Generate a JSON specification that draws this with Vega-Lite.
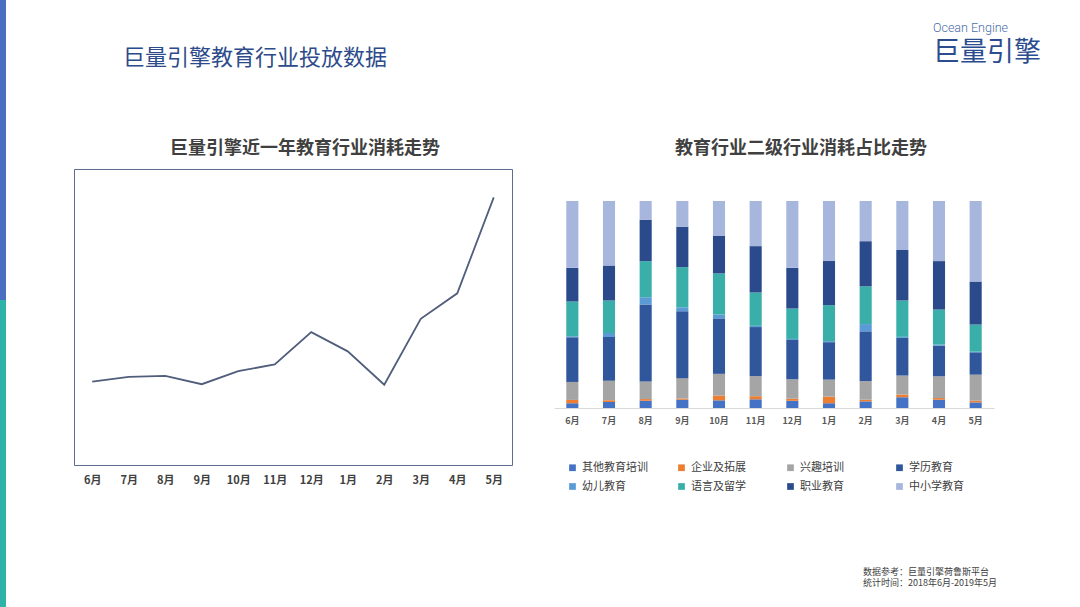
{
  "$schema": "https://vega.github.io/schema/vega-lite/v6.json",
  "background": "white",
  "padding": 0,
  "config": {
    "view": {"stroke": null},
    "font": "Noto Sans CJK SC",
    "title": {"font": "Noto Sans CJK SC"},
    "axis": {"labelFont": "Noto Sans CJK SC"},
    "legend": {"labelFont": "Noto Sans CJK SC"}
  },
  "datasets": {
    "line": [
      {"m": "6月", "v": 28.2}, {"m": "7月", "v": 29.8}, {"m": "8月", "v": 30.1},
      {"m": "9月", "v": 27.3}, {"m": "10月", "v": 31.7}, {"m": "11月", "v": 34.0},
      {"m": "12月", "v": 44.9}, {"m": "1月", "v": 38.4}, {"m": "2月", "v": 27.1},
      {"m": "3月", "v": 49.4}, {"m": "4月", "v": 58.0}, {"m": "5月", "v": 90.4}
    ],
    "bars": [
      {"m": "6月", "c": "其他教育培训", "v": 2.3}, {"m": "6月", "c": "企业及拓展", "v": 1.6}, {"m": "6月", "c": "兴趣培训", "v": 8.7}, {"m": "6月", "c": "学历教育", "v": 21.6}, {"m": "6月", "c": "幼儿教育", "v": 0.5}, {"m": "6月", "c": "语言及留学", "v": 16.8}, {"m": "6月", "c": "职业教育", "v": 16.3}, {"m": "6月", "c": "中小学教育", "v": 32.3},
      {"m": "7月", "c": "其他教育培训", "v": 2.9}, {"m": "7月", "c": "企业及拓展", "v": 0.8}, {"m": "7月", "c": "兴趣培训", "v": 9.4}, {"m": "7月", "c": "学历教育", "v": 21.1}, {"m": "7月", "c": "幼儿教育", "v": 2.0}, {"m": "7月", "c": "语言及留学", "v": 15.6}, {"m": "7月", "c": "职业教育", "v": 16.9}, {"m": "7月", "c": "中小学教育", "v": 31.1},
      {"m": "8月", "c": "其他教育培训", "v": 3.5}, {"m": "8月", "c": "企业及拓展", "v": 0.8}, {"m": "8月", "c": "兴趣培训", "v": 8.5}, {"m": "8月", "c": "学历教育", "v": 37.1}, {"m": "8月", "c": "幼儿教育", "v": 3.5}, {"m": "8月", "c": "语言及留学", "v": 17.4}, {"m": "8月", "c": "职业教育", "v": 20.0}, {"m": "8月", "c": "中小学教育", "v": 9.0},
      {"m": "9月", "c": "其他教育培训", "v": 4.0}, {"m": "9月", "c": "企业及拓展", "v": 0.6}, {"m": "9月", "c": "兴趣培训", "v": 9.8}, {"m": "9月", "c": "学历教育", "v": 32.3}, {"m": "9月", "c": "幼儿教育", "v": 1.9}, {"m": "9月", "c": "语言及留学", "v": 19.4}, {"m": "9月", "c": "职业教育", "v": 19.5}, {"m": "9月", "c": "中小学教育", "v": 12.4},
      {"m": "10月", "c": "其他教育培训", "v": 3.7}, {"m": "10月", "c": "企业及拓展", "v": 2.3}, {"m": "10月", "c": "兴趣培训", "v": 10.5}, {"m": "10月", "c": "学历教育", "v": 26.8}, {"m": "10月", "c": "幼儿教育", "v": 1.9}, {"m": "10月", "c": "语言及留学", "v": 19.8}, {"m": "10月", "c": "职业教育", "v": 18.1}, {"m": "10月", "c": "中小学教育", "v": 16.9},
      {"m": "11月", "c": "其他教育培训", "v": 4.2}, {"m": "11月", "c": "企业及拓展", "v": 1.5}, {"m": "11月", "c": "兴趣培训", "v": 9.7}, {"m": "11月", "c": "学历教育", "v": 23.7}, {"m": "11月", "c": "幼儿教育", "v": 0.6}, {"m": "11月", "c": "语言及留学", "v": 16.1}, {"m": "11月", "c": "职业教育", "v": 22.4}, {"m": "11月", "c": "中小学教育", "v": 21.8},
      {"m": "12月", "c": "其他教育培训", "v": 3.5}, {"m": "12月", "c": "企业及拓展", "v": 1.0}, {"m": "12月", "c": "兴趣培训", "v": 9.4}, {"m": "12月", "c": "学历教育", "v": 19.0}, {"m": "12月", "c": "幼儿教育", "v": 0.5}, {"m": "12月", "c": "语言及留学", "v": 14.7}, {"m": "12月", "c": "职业教育", "v": 19.7}, {"m": "12月", "c": "中小学教育", "v": 32.3},
      {"m": "1月", "c": "其他教育培训", "v": 2.3}, {"m": "1月", "c": "企业及拓展", "v": 3.2}, {"m": "1月", "c": "兴趣培训", "v": 8.2}, {"m": "1月", "c": "学历教育", "v": 18.1}, {"m": "1月", "c": "幼儿教育", "v": 0.5}, {"m": "1月", "c": "语言及留学", "v": 17.4}, {"m": "1月", "c": "职业教育", "v": 21.3}, {"m": "1月", "c": "中小学教育", "v": 29.0},
      {"m": "2月", "c": "其他教育培训", "v": 3.2}, {"m": "2月", "c": "企业及拓展", "v": 0.8}, {"m": "2月", "c": "兴趣培训", "v": 9.0}, {"m": "2月", "c": "学历教育", "v": 24.0}, {"m": "2月", "c": "幼儿教育", "v": 3.5}, {"m": "2月", "c": "语言及留学", "v": 18.2}, {"m": "2月", "c": "职业教育", "v": 21.8}, {"m": "2月", "c": "中小学教育", "v": 19.4},
      {"m": "3月", "c": "其他教育培训", "v": 5.2}, {"m": "3月", "c": "企业及拓展", "v": 1.3}, {"m": "3月", "c": "兴趣培训", "v": 9.2}, {"m": "3月", "c": "学历教育", "v": 18.2}, {"m": "3月", "c": "幼儿教育", "v": 0.5}, {"m": "3月", "c": "语言及留学", "v": 17.6}, {"m": "3月", "c": "职业教育", "v": 24.4}, {"m": "3月", "c": "中小学教育", "v": 23.7},
      {"m": "4月", "c": "其他教育培训", "v": 4.0}, {"m": "4月", "c": "企业及拓展", "v": 0.8}, {"m": "4月", "c": "兴趣培训", "v": 10.5}, {"m": "4月", "c": "学历教育", "v": 14.8}, {"m": "4月", "c": "幼儿教育", "v": 0.5}, {"m": "4月", "c": "语言及留学", "v": 16.9}, {"m": "4月", "c": "职业教育", "v": 23.4}, {"m": "4月", "c": "中小学教育", "v": 29.0},
      {"m": "5月", "c": "其他教育培训", "v": 2.7}, {"m": "5月", "c": "企业及拓展", "v": 0.8}, {"m": "5月", "c": "兴趣培训", "v": 12.6}, {"m": "5月", "c": "学历教育", "v": 10.8}, {"m": "5月", "c": "幼儿教育", "v": 0.3}, {"m": "5月", "c": "语言及留学", "v": 13.1}, {"m": "5月", "c": "职业教育", "v": 20.8}, {"m": "5月", "c": "中小学教育", "v": 38.9}
    ]
  },
  "spacing": 67,
  "resolve": {"scale": {"color": "independent"}, "legend": {"color": "independent"}},
  "hconcat": [
    {
      "data": {"values": [{"seg": "a", "k": "s", "v": 300}, {"seg": "b", "k": "s", "v": 307}]},
      "width": 6,
      "height": 607,
      "mark": {"type": "bar"},
      "encoding": {
        "x": {"field": "k", "type": "nominal", "axis": null, "scale": {"paddingInner": 0, "paddingOuter": 0}},
        "y": {"field": "v", "type": "quantitative", "axis": null, "scale": {"domain": [0, 607], "nice": false}},
        "order": {"field": "seg", "sort": "descending"},
        "color": {"field": "seg", "type": "nominal", "legend": null, "scale": {"domain": ["a", "b"], "range": ["#4a6fc0", "#2fb3a9"]}}
      }
    },
    {
      "spacing": 70,
      "resolve": {"scale": {"color": "independent"}, "legend": {"color": "independent"}},
      "vconcat": [
        {
          "spacing": 0,
          "hconcat": [
            {
              "data": {"values": []},
              "mark": "point",
              "width": 859,
              "height": 46,
              "title": {"text": "巨量引擎教育行业投放数据", "orient": "bottom", "anchor": "start", "dx": 49, "offset": 2, "fontSize": 22, "fontWeight": "normal", "color": "#2d4b8a", "baseline": "top"}
            },
            {
              "data": {"values": []},
              "mark": "point",
              "width": 110,
              "height": 21,
              "title": {"text": "Ocean Engine", "subtitle": "巨量引擎", "orient": "bottom", "anchor": "start", "offset": 1, "fontSize": 12.5, "font": "Roboto", "fontWeight": 300, "color": "#4a6eaa", "subtitleFontSize": 27, "subtitleColor": "#2b4d8f", "subtitleFont": "Noto Sans CJK SC", "subtitlePadding": 5, "baseline": "top", "dx": -3}
            }
          ]
        },
        {
          "spacing": 63,
          "resolve": {"scale": {"color": "independent"}, "legend": {"color": "independent"}},
          "vconcat": [
            {
              "spacing": 41,
              "resolve": {"scale": {"color": "independent"}, "legend": {"color": "independent"}},
              "hconcat": [
                {
                  "data": {"name": "line"},
                  "width": 438,
                  "height": 296,
                  "view": {"stroke": "#5d6d8f", "strokeWidth": 1},
                  "title": {"text": "巨量引擎近一年教育行业消耗走势", "fontSize": 18, "fontWeight": "bold", "color": "#404040", "offset": 11, "dx": 12},
                  "mark": {"type": "line", "color": "#505e7c", "strokeWidth": 1.8},
                  "encoding": {
                    "x": {"field": "m", "type": "nominal", "sort": null, "axis": {"title": null, "labelAngle": 0, "domain": false, "ticks": false, "labelPadding": 9, "labelFontSize": 11, "labelFontWeight": "bold", "labelColor": "#404040"}},
                    "y": {"field": "v", "type": "quantitative", "scale": {"domain": [0, 100], "nice": false}, "axis": null}
                  }
                },
                {
                  "data": {"name": "bars"},
                  "transform": [{"window": [{"op": "row_number", "as": "o"}], "groupby": ["m"]}],
                  "width": 440,
                  "height": 239,
                  "title": {"text": "教育行业二级行业消耗占比走势", "fontSize": 18, "fontWeight": "bold", "color": "#404040", "offset": 11, "dx": 27},
                  "mark": {"type": "bar"},
                  "encoding": {
                    "x": {"field": "m", "type": "nominal", "sort": ["6月", "7月", "8月", "9月", "10月", "11月", "12月", "1月", "2月", "3月", "4月", "5月"], "scale": {"paddingInner": 0.67, "paddingOuter": 0.335}, "axis": {"title": null, "labelAngle": 0, "domain": true, "domainColor": "#d9d9d9", "ticks": false, "labelPadding": 8, "labelFontSize": 9, "labelFontWeight": "bold", "labelColor": "#595959"}},
                    "y": {"field": "v", "type": "quantitative", "stack": "normalize", "axis": null, "scale": {"domain": [0, 1.1546], "nice": false}},
                    "order": {"field": "o", "type": "quantitative", "sort": "ascending"},
                    "color": {
                      "field": "c",
                      "type": "nominal",
                      "sort": ["其他教育培训", "企业及拓展", "兴趣培训", "学历教育", "幼儿教育", "语言及留学", "职业教育", "中小学教育"],
                      "scale": {"domain": ["其他教育培训", "企业及拓展", "兴趣培训", "学历教育", "幼儿教育", "语言及留学", "职业教育", "中小学教育"], "range": ["#4472c4", "#ed7d31", "#a5a5a5", "#30569c", "#5b9bd5", "#3aafa9", "#2b4a8b", "#a7b6dc"]},
                      "legend": {"title": null, "orient": "bottom", "direction": "horizontal", "columns": 4, "symbolType": "square", "symbolSize": 45, "symbolStrokeWidth": 0, "labelFontSize": 11, "labelColor": "#404040", "gridAlign": "all", "columnPadding": 28, "rowPadding": 7, "padding": 13, "offset": 24}
                    }
                  }
                }
              ]
            },
            {
              "data": {"values": []},
              "mark": "point",
              "width": 920,
              "height": 1,
              "title": {"text": ["数据参考：巨量引擎荷鲁斯平台", "统计时间：2018年6月-2019年5月"], "anchor": "start", "dx": 789, "fontSize": 9, "fontWeight": "normal", "color": "#404040", "lineHeight": 11, "offset": 0}
            }
          ]
        }
      ]
    }
  ]
}
